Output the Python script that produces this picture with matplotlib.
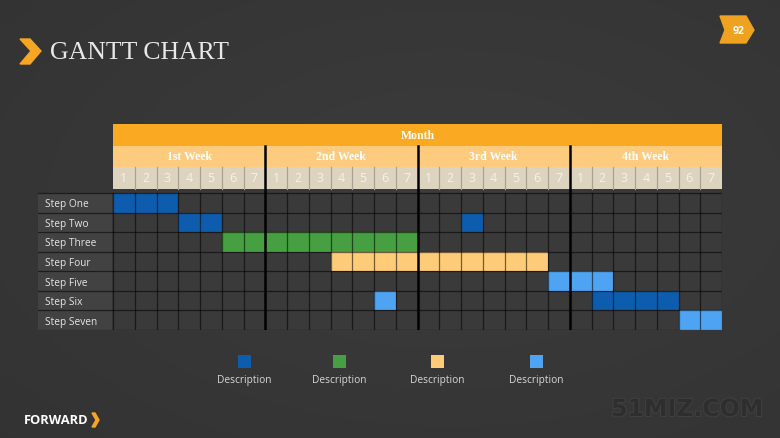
import numpy as np
import matplotlib
matplotlib.use("Agg")
import matplotlib.pyplot as plt
from matplotlib.patches import Polygon, Rectangle
import matplotlib.patheffects as pe

# chart data
steps = ["Step One", "Step Two", "Step Three", "Step Four", "Step Five", "Step Six", "Step Seven"]
weeks = ["1st Week", "2nd Week", "3rd Week", "4th Week"]
days = ["1", "2", "3", "4", "5", "6", "7"]
month_label = "Month"

task_rows = [0, 1, 1, 2, 3, 4, 5, 5, 6]
task_starts = [0, 3, 16, 5, 10, 20, 12, 22, 26]
task_lengths = [3, 2, 1, 9, 10, 3, 1, 4, 2]
task_kinds = [0, 0, 0, 1, 2, 3, 3, 0, 3]

legend_labels = ["Description", "Description", "Description", "Description"]
kind_colors = ["#0d5cad", "#46a041", "#fecb78", "#4ea4f2"]

W, H = 780, 439
fig = plt.figure(figsize=(W / 100, H / 100), dpi=100)

# background with soft gradient
bg = fig.add_axes([0, 0, 1, 1])
bg.set_xlim(0, W)
bg.set_ylim(H, 0)
bg.axis("off")
yy, xx = np.mgrid[0:H, 0:W]
r = np.sqrt(((xx - 450) / W) ** 2 + ((yy - 200) / H) ** 2)
shade = 0.235 - 0.045 * r
img = np.dstack([shade, shade, shade])
bg.imshow(img, extent=(0, W, H, 0), aspect="auto", zorder=0)

# title with chevron
bg.add_patch(Polygon([(20, 40), (30, 40), (41, 52), (30, 65), (20, 65), (31, 52)],
                     closed=True, color="#f6a623", zorder=2))
bg.text(50, 53, "GANTT CHART", fontsize=18.5, family="Liberation Serif",
        color="#e8e8e8", va="center", ha="left", zorder=2)

# page badge
bg.add_patch(Polygon([(720, 17), (746, 17), (754, 31), (746, 44), (720, 44), (725, 31)],
                     closed=True, color="#eea21f", zorder=2))
bg.text(739, 31, "92", fontsize=7.5, color="white", fontweight="bold",
        ha="center", va="center", family="Open Sans", zorder=3)

# footer
bg.text(24, 421, "FORWARD", fontsize=9.3, color="white", fontweight="bold",
        ha="left", va="center", family="Open Sans", zorder=2)
bg.add_patch(Polygon([(92, 414), (95, 414), (99, 421), (95, 428), (92, 428), (96, 421)],
                     closed=True, color="#f6a623", zorder=2))
bg.text(687, 410, "51MIZ.COM", fontsize=17, color="#2e2e2e", fontweight="bold",
        ha="center", va="center", family="DejaVu Sans", zorder=2,
        path_effects=[pe.withStroke(linewidth=1.5, foreground="#404040")])

# gantt axes: x in day columns, y in rows
x0_px, x1_px, top_px, bot_px = 38, 722, 125, 331
col_w = (x1_px - 113) / 28.0
row_h = (bot_px - 194) / 7.0
ax = fig.add_axes([x0_px / W, (H - bot_px) / H, (x1_px - x0_px) / W, (bot_px - top_px) / H])
ax.set_xlim(-(113 - x0_px) / col_w, 28)
ax.set_ylim(7, (top_px - 194) / row_h)
ax.axis("off")
ax.patch.set_alpha(0)

y_month = (125 - 194) / row_h
y_week = (147 - 194) / row_h
y_day = (168 - 194) / row_h
y_day_end = (190 - 194) / row_h
n_cols = len(weeks) * len(days)

# header bands
ax.add_patch(Rectangle((0, y_month), n_cols, y_week - y_month, color="#f9a922", lw=0))
ax.add_patch(Rectangle((0, y_week), n_cols, y_day - y_week, color="#fdcb7d", lw=0))
ax.add_patch(Rectangle((0, y_day), n_cols, y_day_end - y_day, color="#ddd4c0", lw=0))
ax.text(n_cols / 2, (y_month + y_week) / 2, month_label, ha="center", va="center",
        fontsize=8.5, color="white", fontweight="bold", family="Liberation Serif")
for i, wk in enumerate(weeks):
    ax.text(i * 7 + 3.5, (y_week + y_day) / 2, wk, ha="center", va="center",
            fontsize=8.5, color="white", fontweight="bold", family="Liberation Serif")
    for j, d in enumerate(days):
        ax.text(i * 7 + j + 0.5, (y_day + y_day_end) / 2, d, ha="center", va="center",
                fontsize=9, color="#f6f2ea", family="Open Sans")
for c in range(1, n_cols):
    if c % 7:
        ax.plot([c, c], [y_day, y_day_end], color="#a8a193", lw=0.9)

# grid cells and row labels
ax.add_patch(Rectangle((0, 0), n_cols, len(steps), color="#3a3a3a", lw=0))
lab_x = ax.get_xlim()[0]
ax.add_patch(Rectangle((lab_x, 0), -lab_x - 0.05, len(steps), color="#424242", lw=0))
for i, s in enumerate(steps):
    ax.text(lab_x + 0.3, i + 0.55, s, ha="left", va="center", fontsize=7.3,
            color="#e6e6e6", family="Open Sans")

ax.barh(task_rows, task_lengths, left=task_starts, height=1.0, align="edge",
        color=[kind_colors[k] for k in task_kinds], lw=0, zorder=2)

for rr in range(len(steps) + 1):
    ax.plot([lab_x, n_cols], [rr, rr], color="black", alpha=0.55, lw=0.9, zorder=3)
for c in range(n_cols + 1):
    if c % 7 or c in (0, n_cols):
        ax.plot([c, c], [0, len(steps)], color="black", alpha=0.55, lw=0.9, zorder=3)
for c in (7, 14, 21):
    ax.plot([c, c], [y_week, len(steps)], color="black", lw=1.8, zorder=4)

# legend
leg = fig.add_axes([0, 0, 1, 1])
leg.set_xlim(0, W)
leg.set_ylim(H, 0)
leg.axis("off")
leg.patch.set_alpha(0)
leg_x = [244, 339, 437, 536]
for x, c, lab in zip(leg_x, kind_colors, legend_labels):
    leg.add_patch(Rectangle((x - 6.5, 356), 13, 13, color=c, lw=0))
    leg.text(x, 381, lab, ha="center", va="center", fontsize=7.3,
             color="#d8d8d8", family="Open Sans")

fig.savefig("out.png", dpi=100)
